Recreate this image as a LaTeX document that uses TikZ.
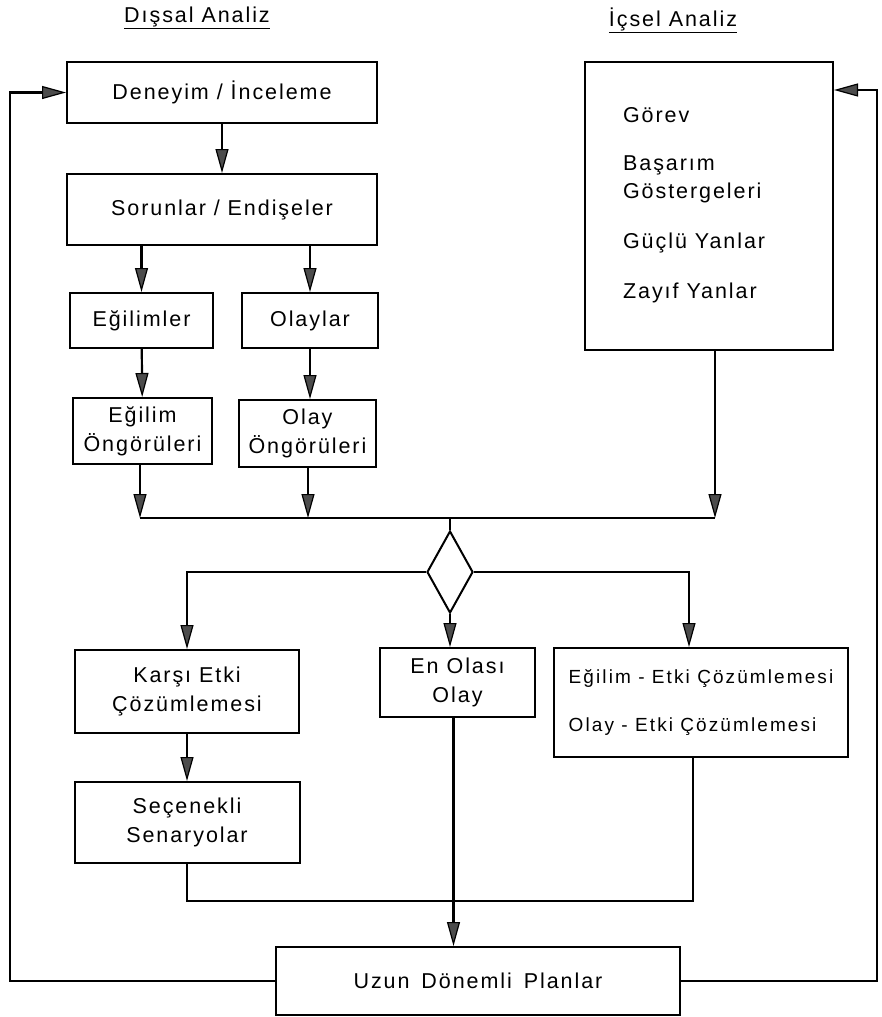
\documentclass[tikz,border=0pt]{standalone}
\usepackage{fontspec}
\setmainfont{Liberation Sans}[LetterSpace=9]
\newfontfamily\etkifont{Liberation Sans}[LetterSpace=11]
\usetikzlibrary{shapes.geometric,arrows.meta,calc}
\begin{document}
\begin{tikzpicture}[x=1pt,y=-1pt,
  line width=2.2pt,
  bx/.style={draw, line width=2pt, inner sep=0pt, align=center, font=\fontsize{21.5}{29}\selectfont},
  lbl/.style={inner sep=0pt, anchor=west, font=\fontsize{21.5}{24}\selectfont},
  arr/.style={-{Triangle[length=24pt,width=13pt,line width=1.2pt,fill=black!70]}}]
\useasboundingbox (0,0) rectangle (881,1017);
% titles
\node[inner sep=0pt, font=\fontsize{21.5}{24}\selectfont] (tdis) at (197,18) {\underline{Dışsal Analiz}};
\node[inner sep=0pt, font=\fontsize{21.5}{24}\selectfont] (tic) at (673,20) {\underline{İçsel Analiz}};
% left column
\node[bx, minimum width=310, minimum height=61] (deneyim) at (222,92.5) {Deneyim / İnceleme};
\node[bx, minimum width=310, minimum height=71] (sorunlar) at (222,209.5) {Sorunlar / Endişeler};
\node[bx, minimum width=143, minimum height=55] (egilimler) at (141.5,320.5) {Eğilimler};
\node[bx, minimum width=136, minimum height=55] (olaylar) at (310,320.5) {Olaylar};
\node[bx, minimum width=139, minimum height=66] (egong) at (142.5,431) {Eğilim\\Öngörüleri};
\node[bx, minimum width=137, minimum height=67] (olong) at (307.5,433.5) {Olay\\Öngörüleri};
% internal analysis
\node[bx, minimum width=248, minimum height=288] (icsel) at (709,206) {};
\node[lbl] (t1) at (622,115) {Görev};
\node[lbl] (t2) at (622,165) {Başarım};
\node[lbl] (t3) at (622,193) {Göstergeleri};
\node[lbl] (t4) at (622,243) {Güçlü Yanlar};
\node[lbl] (t5) at (622,293) {Zayıf Yanlar};
% diamond
\node[draw, diamond, line width=2pt, inner sep=0pt, minimum width=46, minimum height=82] (dia) at (450,572) {};
% lower row
\node[bx, minimum width=224, minimum height=83] (karsi) at (187,691.5) {Karşı Etki\\Çözümlemesi};
\node[bx, minimum width=155, minimum height=69] (enol) at (457.5,682.5) {En Olası\\Olay};
\node[bx, minimum width=294, minimum height=109, align=left, font=\etkifont\fontsize{19}{48}\selectfont] (etki) at (701,702.5) {Eğilim - Etki Çözümlemesi\\Olay - Etki Çözümlemesi};
\node[bx, minimum width=225, minimum height=81] (secen) at (187,822.5) {Seçenekli\\Senaryolar};
\node[bx, minimum width=404, minimum height=68] (uzun) at (478,981) {Uzun\hspace{4pt} Dönemli\hspace{4pt} Planlar};
% helper coordinates
\coordinate (mL) at (140,518);
\coordinate (mO) at (308,518);
\coordinate (mR) at (715,518);
\coordinate (eA) at (689,575);
\coordinate (j) at (693,901);
\coordinate (L) at (10,92.5);
\coordinate (R) at (877,90);
% connectors
\draw[arr] (deneyim) -- (sorunlar);
\draw[arr] (egilimler.north |- sorunlar.south) -- (egilimler.north);
\draw[arr] (olaylar.north |- sorunlar.south) -- (olaylar.north);
\draw[arr] (egilimler) -- (egong);
\draw[arr] (olaylar) -- (olaylar.south |- olong.north);
\draw[arr] (egong.south -| mL) -- (mL);
\draw[arr] (olong.south -| mO) -- (mO);
\draw[arr] (icsel.south -| mR) -- (mR);
\draw (mL) -- (mR);
\draw (dia.north |- mL) -- (dia.north);
\draw[arr] (dia.west) -| (karsi.north);
\draw[arr] (dia.south) -- (dia.south |- enol.north);
\draw[arr] (dia.east) -| (eA |- etki.north);
\draw[arr] (karsi) -- (secen);
\draw (secen.south) |- (j) -- (j |- etki.south);
\draw[arr] ($(enol.south)+(-4,0)$) -- ($(enol.south |- uzun.north)+(-4,0)$);
\draw[arr] (uzun.west) -| (L) -- (deneyim.west);
\draw[arr] (uzun.east) -| (R) -- (icsel.east |- R);
\end{tikzpicture}
\end{document}
